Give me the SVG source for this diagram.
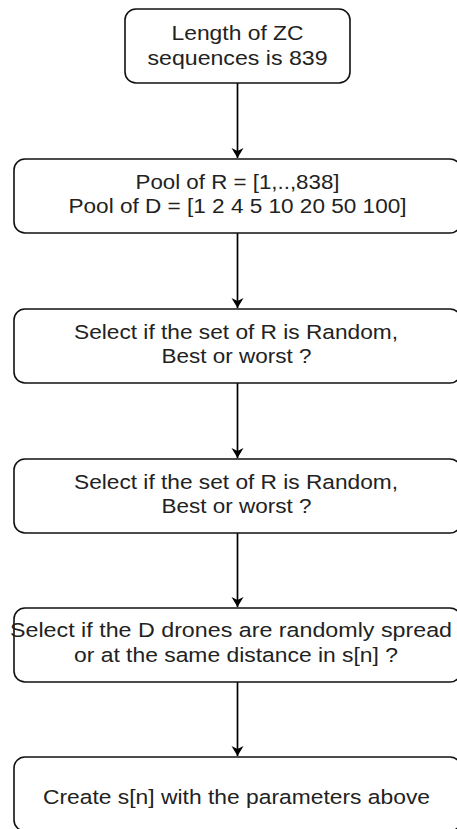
<svg xmlns="http://www.w3.org/2000/svg" width="457" height="829" viewBox="0 0 457 829">
<style>
.box{fill:#fff;stroke:#111;stroke-width:1.6}
.t{font-family:"Liberation Sans",Arial,sans-serif;font-size:20.5px;fill:#222;text-anchor:middle}
.c{stroke:#000;stroke-width:1.7;fill:none}
</style>
<defs>
<marker id="ah" markerWidth="14" markerHeight="14" refX="10" refY="6" orient="auto" markerUnits="userSpaceOnUse">
<path d="M0,0 L10,6 L0,12 L3,6 Z" fill="#000"/>
</marker>
</defs>
<rect width="457" height="829" fill="#fff"/>
<g id="connectors">
<line class="c" x1="237.5" y1="83" x2="237.5" y2="158" marker-end="url(#ah)"/>
<line class="c" x1="237.5" y1="233" x2="237.5" y2="308" marker-end="url(#ah)"/>
<line class="c" x1="237.5" y1="383" x2="237.5" y2="458" marker-end="url(#ah)"/>
<line class="c" x1="237.5" y1="533" x2="237.5" y2="607" marker-end="url(#ah)"/>
<line class="c" x1="237.5" y1="682" x2="237.5" y2="756" marker-end="url(#ah)"/>
</g>
<g id="n1">
<rect class="box" x="125" y="9" width="225" height="74" rx="11"/>
<text class="t" x="237.5" y="40" textLength="132" lengthAdjust="spacingAndGlyphs">Length of ZC</text>
<text class="t" x="237.5" y="65" textLength="180" lengthAdjust="spacingAndGlyphs">sequences is 839</text>
</g>
<g id="n2">
<rect class="box" x="14" y="159" width="447" height="74" rx="11"/>
<text class="t" x="237.5" y="189" textLength="204" lengthAdjust="spacingAndGlyphs">Pool of R = [1,..,838]</text>
<text class="t" x="237.5" y="213" textLength="338" lengthAdjust="spacingAndGlyphs">Pool of D = [1 2 4 5 10 20 50 100]</text>
</g>
<g id="n3">
<rect class="box" x="14" y="309" width="447" height="74" rx="11"/>
<text class="t" x="236" y="339" textLength="324" lengthAdjust="spacingAndGlyphs">Select if the set of R is Random,</text>
<text class="t" x="236.5" y="363" textLength="150" lengthAdjust="spacingAndGlyphs">Best or worst ?</text>
</g>
<g id="n4">
<rect class="box" x="14" y="459" width="447" height="74" rx="11"/>
<text class="t" x="236" y="489" textLength="324" lengthAdjust="spacingAndGlyphs">Select if the set of R is Random,</text>
<text class="t" x="236.5" y="513" textLength="150" lengthAdjust="spacingAndGlyphs">Best or worst ?</text>
</g>
<g id="n5">
<rect class="box" x="14" y="608" width="447" height="74" rx="11"/>
<text class="t" x="231" y="637" textLength="442" lengthAdjust="spacingAndGlyphs">Select if the D drones are randomly spread</text>
<text class="t" x="236" y="662" textLength="324" lengthAdjust="spacingAndGlyphs">or at the same distance in s[n] ?</text>
</g>
<g id="n6">
<rect class="box" x="14" y="757" width="447" height="74" rx="11"/>
<text class="t" x="236.5" y="804" textLength="387" lengthAdjust="spacingAndGlyphs">Create s[n] with the parameters above</text>
</g>
</svg>
